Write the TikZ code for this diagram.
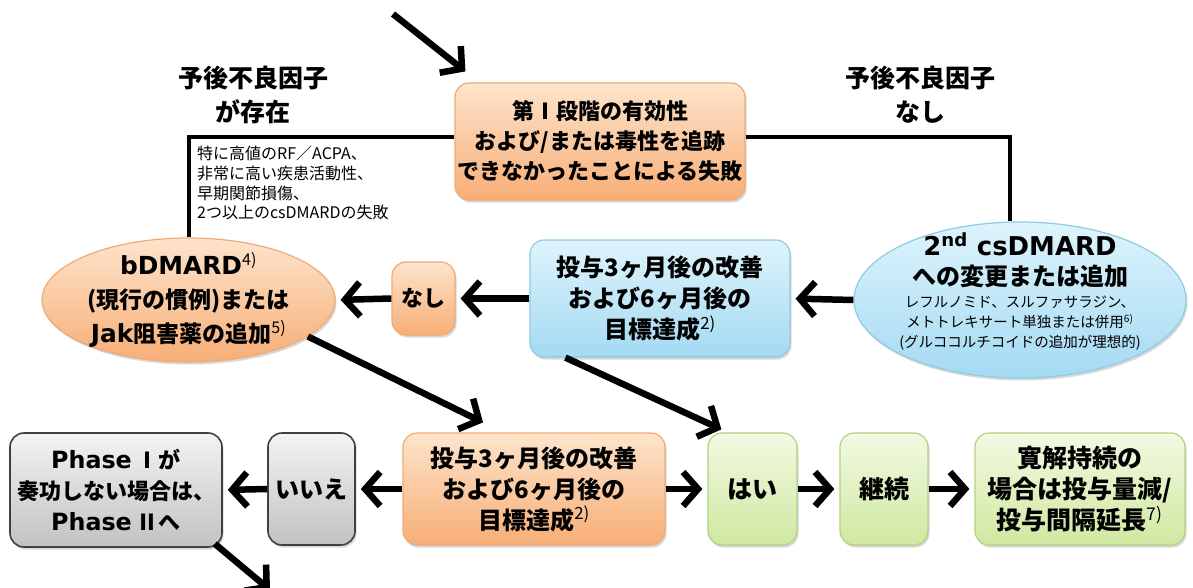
\documentclass[tikz,border=0pt]{standalone}
\usepackage{fontspec}
\setmainfont{Noto Sans CJK JP}
\newfontfamily\lat{DejaVu Sans}[Scale=1.08]
\usetikzlibrary{arrows.meta,shapes.geometric,shadows}
\definecolor{otop}{HTML}{FDE4CC}
\definecolor{obot}{HTML}{F7AE76}
\definecolor{oedge}{HTML}{F0AA74}
\definecolor{btop}{HTML}{DEF4FC}
\definecolor{bbot}{HTML}{A4DAF3}
\definecolor{bedge}{HTML}{8ECCE4}
\definecolor{gtop}{HTML}{F2FAE3}
\definecolor{gbot}{HTML}{D0E8A0}
\definecolor{gedge}{HTML}{B0D286}
\definecolor{ytop}{HTML}{F3F3F3}
\definecolor{ybot}{HTML}{C2C2C2}
\definecolor{yedge}{HTML}{404040}
\begin{document}
\begin{tikzpicture}[x=1pt,y=-1pt,
  bigtxt/.style={font=\fontsize{22}{30}\selectfont\bfseries, align=center, inner sep=0pt},
  box/.style={bigtxt, rounded corners=14pt, line width=1.2pt,
    drop shadow={shadow xshift=1.5pt,shadow yshift=-2.5pt,opacity=0.3}},
  obox/.style={box, draw=oedge, top color=otop, bottom color=obot},
  bbox/.style={box, draw=bedge, top color=btop, bottom color=bbot},
  gbox/.style={box, draw=gedge, top color=gtop, bottom color=gbot},
  ybox/.style={box, draw=yedge, top color=ytop, bottom color=ybot, line width=1.6pt},
  f24/.style={font=\fontsize{24}{31}\selectfont\bfseries},
  f25/.style={font=\fontsize{25}{31}\selectfont\bfseries},
  oell/.style={ellipse, inner sep=0pt, line width=1.2pt, draw=oedge, top color=otop, bottom color=obot,
    drop shadow={shadow xshift=1.5pt,shadow yshift=-2.5pt,opacity=0.3}},
  bell/.style={ellipse, inner sep=0pt, line width=1.2pt, draw=bedge, top color=btop, bottom color=bbot,
    drop shadow={shadow xshift=1.5pt,shadow yshift=-2.5pt,opacity=0.3}},
  lbl/.style={font=\fontsize{25}{34}\selectfont\bfseries, align=center, inner sep=0pt},
  small/.style={font=\fontsize{16}{19.7}\selectfont, align=left, inner sep=0pt},
  csbig/.style={font=\fontsize{24}{30}\selectfont\bfseries, align=center, inner sep=0pt},
  cssmall/.style={font=\fontsize{14.5}{20}\selectfont, align=center, inner sep=0pt},
  conn/.style={line width=4pt},
  arr/.style={line width=6.5pt, -{Straight Barb[length=15pt,width=34pt]}, shorten >=5pt}
]
\useasboundingbox (0,0) rectangle (1193,588);
\fill[white] (0,0) rectangle (1193,588);

% top
\node[obox, minimum width=290pt, minimum height=117pt] (top) at (600,141.5)
  {第Ⅰ段階の有効性\\および/または毒性を追跡\\できなかったことによる失敗};
\node[lbl] (lblL) at (253,95) {予後不良因子\\が存在};
\node[lbl] (lblR) at (920,95) {予後不良因子\\なし};
\node[small, anchor=north west] (fac) at (197,146)
  {特に高値のRF／ACPA、\\非常に高い疾患活動性、\\早期関節損傷、\\2つ以上のcsDMARDの失敗};

% middle row
\node[oell, minimum width=293pt, minimum height=124pt] (bd) at (188.5,300) {};
\node[bigtxt, font=\fontsize{23}{34}\selectfont\bfseries] (bdt) at (bd.center)
  {{\lat bDMARD}\textsuperscript{\mdseries 4)}\\(現行の慣例)または\\{\lat Jak}阻害薬の追加\textsuperscript{\mdseries 5)}};
\node[obox, minimum width=63pt, minimum height=73pt] (nashi) at (423.5,298.5) {なし};
\node[bbox, f24, minimum width=260pt, minimum height=117pt] (blue) at (660,298.5)
  {投与3ヶ月後の改善\\および6ヶ月後の\\目標達成\textsuperscript{\mdseries 2)}};
\node[bell, minimum width=332pt, minimum height=156pt] (cs) at (1020,300) {};
\node[csbig] (cst) at (1020,260) {{\lat 2\textsuperscript{nd} csDMARD}\\への変更または追加};
\node[cssmall] (css) at (1020,323)
  {レフルノミド、スルファサラジン、\\メトトレキサート単独または併用\textsuperscript{6)}\\(グルココルチコイドの追加が理想的)};

% bottom row
\node[ybox, font=\fontsize{22}{31}\selectfont\bfseries, minimum width=212pt, minimum height=114pt] (g1) at (116,490)
  {{\lat Phase} Ⅰが\\奏功しない場合は、\\{\lat Phase} Ⅱへ};
\node[ybox, f24, minimum width=87pt, minimum height=112pt] (iie) at (311.5,489) {いいえ};
\node[obox, f24, minimum width=262pt, minimum height=112pt] (o2) at (534,489)
  {投与3ヶ月後の改善\\および6ヶ月後の\\目標達成\textsuperscript{\mdseries 2)}};
\node[gbox, f25, minimum width=89pt, minimum height=112pt] (hai) at (752.5,489) {はい};
\node[gbox, f25, minimum width=88pt, minimum height=112pt] (kei) at (884,489) {継続};
\node[gbox, f25, minimum width=210pt, minimum height=112pt] (kan) at (1080,489)
  {寛解持続の\\場合は投与量減/\\投与間隔延長\textsuperscript{\mdseries 7)}};

% connectors
\draw[conn] ([yshift=4.5pt]top.west) -| (bd.north);
\draw[conn] ([yshift=4.5pt]top.east) -| ([xshift=-10pt]cs.north);
\coordinate (in) at (393,14);
\coordinate (out) at (270,590);
\draw[arr, shorten >=0pt] (in) -- ([xshift=11pt,yshift=11pt]top.north west);
\draw[arr] (cs.west) -- (blue.east);
\draw[arr] (blue.west) -- (nashi.east);
\draw[arr] (nashi.west) -- (bd.east);
\draw[arr, shorten >=0pt] (bd.-17) -- ([xshift=-51pt,yshift=10pt]o2.north);
\draw[arr, shorten >=0pt] ([xshift=36pt]blue.south west) -- ([xshift=14pt,yshift=3pt]hai.north west);
\draw[arr] (o2.west) -- (iie.east);
\draw[arr] (iie.west) -- (g1.east);
\draw[arr] (o2.east) -- (hai.west);
\draw[arr] (hai.east) -- (kei.west);
\draw[arr] (kei.east) -- (kan.west);
\draw[arr, shorten >=0pt] ([xshift=-8pt,yshift=4pt]g1.south east) -- (out);
\end{tikzpicture}
\end{document}
